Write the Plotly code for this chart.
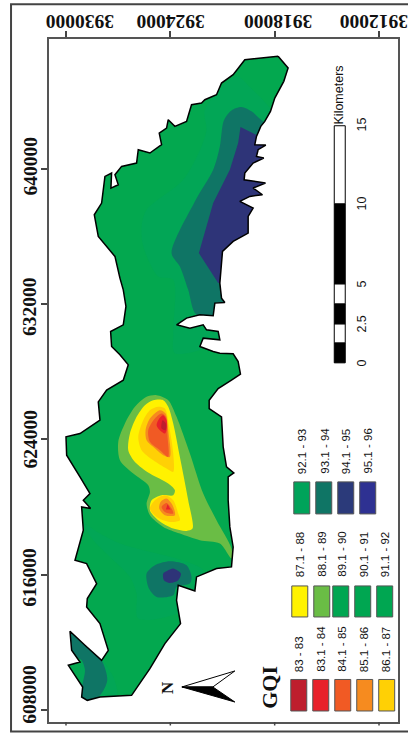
import plotly.graph_objects as go

# ---- axis ticks ----
easting_ticks = [3930000, 3924000, 3918000, 3912000]
northing_ticks = [640000, 632000, 624000, 616000, 608000]
easting_range = [3930977, 3910908]
northing_range = [607271, 647699]

# ---- coastline (easting, northing) ----
coast_e = [3917802,3917227,3917476,3917744,3917993,3918242,3918568,3918798,3919046,3919142,3918510,3918951,3919046,3918625,3919238,3919717,3919755,3918529,3919238,3918702,3919429,3920004,3919238,3919525,3919525,3920387,3921000,3921153,3921057,3920866,3921440,3921536,3922302,3923068,3923642,3922876,3922110,3921919,3921249,3921153,3922110,3922302,3921536,3921153,3920387,3920100,3919966,3920483,3921249,3921766,3921766,3921057,3921000,3920961,3920770,3920349,3920674,3920674,3920578,3920387,3920483,3921344,3922493,3922589,3923547,3923642,3923413,3924313,3925174,3926228,3928047,3928775,3929100,3929043,3929866,3929196,3929675,3929770,3928909,3927951,3927568,3927760,3928047,3928813,3928775,3928238,3928813,3929483,3929004,3929100,3928583,3929004,3928621,3929196,3929962,3930000,3929196,3928047,3928143,3927664,3926706,3926419,3926898,3927377,3927434,3926706,3926553,3926706,3926898,3927185,3928143,3928373,3927951,3927760,3927377,3927415,3926994,3927185,3926802,3925940,3925845,3925174,3924504,3924638,3924217,3924121,3923738,3923068,3922781,3922206,3922015,3921344,3921057,3920387,3919717,3917802]
coast_n = [646672,645981,645192,644698,644205,643415,642823,642527,641935,641441,641421,641145,640750,640651,640355,639763,639368,639171,638875,638480,638381,638085,637690,637197,636210,635716,635124,633249,632361,632104,632065,631314,631374,631176,630781,630584,630781,630485,630387,629893,629992,629498,629202,629104,629064,628610,627860,627505,627011,626320,625827,625333,624544,623557,622372,622017,621780,620398,618819,617635,616450,616352,615858,615029,615365,614476,613094,611910,610430,608850,608752,608554,608752,609344,610627,610824,611515,612640,611811,610923,611515,612206,613094,614081,614575,615463,616648,616845,618622,620003,619905,620398,620793,621780,623063,624149,624346,625136,626222,626912,627505,628413,629005,629498,630387,630781,631867,632854,633545,634828,636013,637296,637987,639566,639763,638875,639072,639664,640158,640355,641145,640948,641441,642132,642428,642922,642527,642823,643810,643909,644106,644402,645093,645586,646475,646672]

# ---- GQI zones ----
inner_north_e = [3920195,3919429,3918185,3917323,3917323,3920004,3923738,3923834,3923834,3924696,3925557,3925653,3925366,3923259,3922206,3921919,3922015]
inner_north_n = [645488,644856,643514,642132,634236,630288,629104,630288,633447,633644,635420,636605,637592,639368,641342,642329,643514]
inner_south_e = [3929004,3928047,3926898,3925557,3923642,3922110,3922302,3923451,3925845,3925940,3926323,3927472,3928430]
inner_south_n = [619016,618424,617832,617437,616944,616253,615463,613785,613391,614871,615858,617042,618029]
inner_sw_e = [3928238,3927281,3927089,3929004,3929004]
inner_sw_n = [611219,609936,608752,608357,611120]
teal_north_e = [3918663,3919334,3919908,3920483,3920923,3921153,3921536,3922589,3923930,3923451,3922972,3922493,3920387,3920387,3917897,3917897]
teal_north_n = [642823,643415,643672,643474,642882,641342,639961,638085,635026,634236,632854,631374,631374,634236,640158,642527]
navy_north_e = [3919966,3918951,3917514,3917514,3920387,3921249,3922359,3921536,3920578,3920100]
navy_north_n = [642487,641974,641737,636210,633249,633249,635026,637987,639961,641540]
teal_sw_e = [3929962,3928909,3927951,3927626,3928047,3928813,3929196,3929043,3928909,3929100,3929675]
teal_sw_n = [612798,611910,610923,609739,608850,608456,608653,609541,610331,610923,611318]
teal_south_e = [3924025,3923068,3922781,3922876,3923642,3923834,3924791,3925232,3925366,3924887]
teal_south_n = [616786,616549,615858,615463,615266,614772,614674,615167,616055,616549]
navy_south_e = [3923834,3923394,3923547,3924025,3924370,3924408,3924121]
navy_south_n = [616352,616055,615661,615503,615661,616055,616253]
light_e = [3925366,3924791,3924121,3923642,3922876,3922110,3921344,3920483,3920483,3921153,3922302,3923451,3924408,3925174,3925366,3925174,3925270,3926132,3926898,3926994,3926611,3926036]
light_n = [626518,626616,626320,625333,623162,620793,619214,617536,616944,617832,618029,618424,618819,619510,620201,620892,621287,621977,622767,623853,624938,625925]
yellow_e = [3924983,3924408,3924121,3923834,3923451,3922972,3922723,3923068,3923834,3924696,3925174,3925079,3924504,3923834,3923738,3924121,3925174,3926036,3926419,3926323,3925940,3925462]
yellow_n = [626320,626320,625925,624938,622964,620398,618720,618582,618720,619214,619806,620398,620694,620694,620990,621385,621977,622668,623360,624346,625333,626024]
gold_north_e = [3924696,3924313,3924064,3923834,3923834,3924217,3924983,3925653,3925845,3925557,3925174]
gold_north_n = [625925,625827,624741,623162,622076,622274,622767,623360,624149,625136,625728]
orange_north_e = [3924600,3924274,3924121,3924025,3924408,3924983,3925366,3925423,3925174]
orange_north_n = [625728,625531,624544,622964,623063,623557,623952,624544,625235]
redorange_north_e = [3924504,3924255,3924160,3924121,3924600,3925174,3925270,3924887]
redorange_north_n = [625531,625333,624149,622964,623360,623853,624544,625235]
red_north_e = [3924408,3924217,3924217,3924313,3924600,3924791,3924638]
red_north_n = [625432,625136,624544,624346,624544,624840,625235]
darkred_north_e = [3924447,3924255,3924274,3924504]
darkred_north_n = [625136,624938,624544,624642]
gold_south_e = [3924313,3923834,3923547,3923451,3924025,3924791,3925174,3924887]
gold_south_n = [620694,620398,619609,619214,619115,619411,619905,620398]
orange_south_e = [3924217,3923872,3923738,3924313,3924638,3924562]
orange_south_n = [620497,620102,619510,619510,619905,620300]
redorange_south_e = [3924217,3923930,3923834,3924313,3924504]
redorange_south_n = [620240,619905,619609,619707,620003]
red_south_e = [3924160,3923987,3924255]
red_south_n = [620161,619846,619846]

# ---- legend ----
legend_labels = [
    ["83 - 83", "83.1 - 84", "84.1 - 85", "85.1 - 86", "86.1 - 87"],
    ["87.1 - 88", "88.1 - 89", "89.1 - 90", "90.1 - 91", "91.1 - 92"],
    ["92.1 - 93", "93.1 - 94", "94.1 - 95", "95.1 - 96"],
]
legend_colors = [
    ["#BE1E2D", "#E8212A", "#F15A24", "#F68B1F", "#FFD005"],
    ["#FFF200", "#6ABD45", "#00A651", "#00A651", "#00A651"],
    ["#00A35A", "#0F7565", "#2B3A7A", "#2E3192"],
]
scale_labels = ["0", "2.5", "5", "10", "15"]

# ---- colours ----
BASE = "#03A84F"
INNER = "#02A656"
TEAL = "#0F7565"
NAVY = "#2E3478"
LIGHT = "#6ABD45"
YELLOW = "#FFF200"
GOLD = "#FFD005"
ORANGE = "#F68B1F"
REDORANGE = "#F15A24"
RED = "#E8212A"
DARKRED = "#BE1E2D"

W, H = 408, 734
L, R, T, B = 49.0, 398.3, 39.3, 722.0
SANS = "Liberation Sans, Arial, sans-serif"
SERIF = "Liberation Serif, Times New Roman, serif"


def px(x):
    return (x - L) / (R - L)


def py(y):
    return 1 - (y - T) / (B - T)


fig = go.Figure()


def zone(e, n, color, curve="spline"):
    fig.add_trace(go.Scatter(
        x=list(e) + [e[0]], y=list(n) + [n[0]], mode="lines", fill="toself",
        fillcolor=color, line=dict(width=0, color=color, shape=curve, smoothing=0.8),
        hoverinfo="skip", showlegend=False))


zone(coast_e, coast_n, BASE, "linear")
for e, n, c, curve in [
    (inner_north_e, inner_north_n, INNER, "spline"),
    (inner_south_e, inner_south_n, INNER, "spline"),
    (inner_sw_e, inner_sw_n, INNER, "spline"),
    (teal_north_e, teal_north_n, TEAL, "spline"),
    (navy_north_e, navy_north_n, NAVY, "linear"),
    (teal_sw_e, teal_sw_n, TEAL, "spline"),
    (teal_south_e, teal_south_n, TEAL, "spline"),
    (navy_south_e, navy_south_n, NAVY, "spline"),
    (light_e, light_n, LIGHT, "spline"),
    (yellow_e, yellow_n, YELLOW, "spline"),
    (gold_north_e, gold_north_n, GOLD, "spline"),
    (orange_north_e, orange_north_n, ORANGE, "spline"),
    (redorange_north_e, redorange_north_n, REDORANGE, "spline"),
    (red_north_e, red_north_n, RED, "spline"),
    (darkred_north_e, darkred_north_n, DARKRED, "spline"),
    (gold_south_e, gold_south_n, GOLD, "spline"),
    (orange_south_e, orange_south_n, ORANGE, "spline"),
    (redorange_south_e, redorange_south_n, REDORANGE, "spline"),
    (red_south_e, red_south_n, RED, "linear"),
]:
    zone(e, n, c, curve)

# white surround that trims the zones to the coast
e0, e1 = easting_range
n0, n1 = northing_range
fig.add_trace(go.Scatter(
    x=[e0, e0, e1, e1, e0, None] + coast_e,
    y=[n1, n0, n0, n1, n1, None] + coast_n,
    mode="lines", fill="toself", fillcolor="white", line=dict(width=0),
    hoverinfo="skip", showlegend=False))
fig.add_trace(go.Scatter(
    x=coast_e, y=coast_n, mode="lines", line=dict(color="black", width=1.5),
    hoverinfo="skip", showlegend=False))

shapes = []
annotations = []


def rect(x0, y0, x1, y1, fill, line="rgba(0,0,0,0)", lw=0):
    shapes.append(dict(type="rect", xref="paper", yref="paper",
                       x0=px(x0), x1=px(x1), y0=py(y0), y1=py(y1),
                       fillcolor=fill, line=dict(color=line, width=lw), layer="above"))


def text(x, y, s, size, family=SANS, angle=-90, xa="center", ya="middle", bold=False, color="#111"):
    annotations.append(dict(xref="paper", yref="paper", x=px(x), y=py(y),
                            text=f"<b>{s}</b>" if bold else s, showarrow=False,
                            textangle=angle, xanchor=xa, yanchor=ya,
                            font=dict(family=family, size=size, color=color)))


# tick labels, hand-placed as on the printed map
easting_shift = [14, 0, 3.5, -5]
northing_shift = [2.7, -2.7, 0, -3.3, 15]
for v, s in zip(easting_ticks, easting_shift):
    annotations.append(dict(xref="x", yref="paper", x=v, y=py(21.7), xshift=s,
                            text=f"<b>{v}</b>", showarrow=False, textangle=180,
                            xanchor="center", yanchor="middle",
                            font=dict(family=SERIF, size=19.5, color="#111")))
for v, s in zip(northing_ticks, northing_shift):
    annotations.append(dict(xref="paper", yref="y", x=px(30), y=v, yshift=s,
                            text=f"<b>{v}</b>", showarrow=False, textangle=-90,
                            xanchor="center", yanchor="middle",
                            font=dict(family=SERIF, size=19.5, color="#111")))

# short ticks on the bottom edge
for v in easting_ticks:
    shapes.append(dict(type="line", xref="x", yref="paper", x0=v, x1=v, y0=py(722), y1=py(725.5),
                       line=dict(color="#444", width=1.5), layer="above"))

# outer frame
rect(11, 4.5, 415, 731.5, "rgba(0,0,0,0)", "#444444", 2)

# legend swatches and labels
swatch_x = [
    [291, 313, 335, 357, 379],
    [292, 314, 333, 355, 377],
    [294, 316, 338, 360],
]
swatch_y = [(679.5, 711), (586, 617), (482, 514)]
label_x = [
    [299.5, 321, 342.5, 365, 387],
    [301, 322.5, 342.5, 365, 386],
    [303, 325, 347, 368.5],
]
label_bottom = [674, 579, 476]
for col in range(3):
    for i, lab in enumerate(legend_labels[col]):
        sx = swatch_x[col][i]
        rect(sx, swatch_y[col][0], sx + 16, swatch_y[col][1], legend_colors[col][i], "#555555", 1)
        text(label_x[col][i], label_bottom[col], lab, 11.5, ya="bottom")

text(270, 687, "GQI", 22, family=SERIF, bold=True)
text(168, 687, "N", 17, family=SERIF, bold=True)

# north arrow
tip, wing_u, wing_l, notch = (182, 687), (235, 671), (235, 702), (213, 687)
def path(points):
    return "M" + " L".join(f"{px(a):.4f},{py(b):.4f}" for a, b in points) + " Z"
shapes.append(dict(type="path", xref="paper", yref="paper", path=path([tip, wing_u, notch]),
                   fillcolor="white", line=dict(color="black", width=1), layer="above"))
shapes.append(dict(type="path", xref="paper", yref="paper", path=path([tip, wing_l, notch]),
                   fillcolor="black", line=dict(color="black", width=1), layer="above"))

# scale bar
bar_edges = [363, 343, 324, 304, 284, 204, 126]
bar_fill = ["black", "white", "black", "white", "black", "white"]
for k in range(6):
    rect(334.5, bar_edges[k], 345.5, bar_edges[k + 1], bar_fill[k], "black", 1)
for s, y in zip(scale_labels, [363, 324, 284, 204, 125]):
    text(362, y, s, 12.5)
text(339, 95, "Kilometers", 12.5)

fig.update_layout(
    width=W, height=H, margin=dict(l=L, r=W - R, t=T, b=H - B, pad=0, autoexpand=False),
    paper_bgcolor="white", plot_bgcolor="white", showlegend=False,
    shapes=shapes, annotations=annotations,
    font=dict(family=SERIF, color="#111"),
    xaxis=dict(range=easting_range, side="top", tickvals=easting_ticks, showticklabels=False,
               ticks="outside", ticklen=6, tickwidth=1.5, tickcolor="#444",
               showgrid=False, zeroline=False, showline=True, linecolor="#555", linewidth=2, mirror=True),
    yaxis=dict(range=northing_range, tickvals=northing_ticks, showticklabels=False,
               ticks="outside", ticklen=6, tickwidth=1.5, tickcolor="#444",
               showgrid=False, zeroline=False, showline=True, linecolor="#555", linewidth=2, mirror=True),
)

fig.write_html("out.html", config={"displayModeBar": False},
               post_script="document.body.style.margin='0';document.body.style.overflow='hidden';")
